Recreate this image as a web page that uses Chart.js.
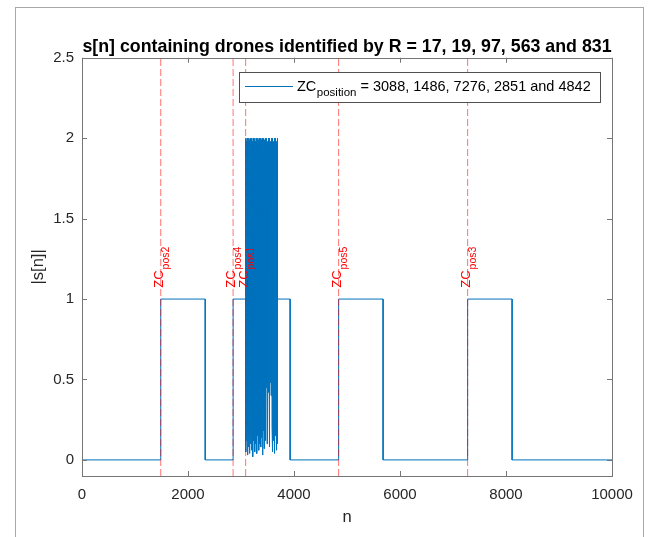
<!DOCTYPE html>
<html><head><meta charset="utf-8">
<script src="https://cdn.jsdelivr.net/npm/chart.js@4/dist/chart.umd.min.js"></script>
<style>html,body{margin:0;padding:0;background:#fff;} canvas{display:block;}</style>
</head><body>
<canvas id="c" width="651" height="537"></canvas>
<script>
// ---- data ----
const rootIndices = [17, 19, 97, 563, 831];
const zcPositions = [3088, 1486, 7276, 2851, 4842];
const zcLabels = ['pos1', 'pos2', 'pos3', 'pos4', 'pos5'];
const xTicks = [0, 2000, 4000, 6000, 8000, 10000];
const yTicks = [0, 0.5, 1, 1.5, 2, 2.5];
const pulseStartN   = [0, 1486, 1486, 2325, 2325, 2851, 2851, 3088];
const pulseStartMag = [0, 0,    1,    1,    0,    0,    1,    1];
const overlapRange = [3088, 3690];
const overlapPeaks = [2.0,1.98,1.95,2.0,1.99,1.9,2.0,1.97,
  1.99,2.0,1.93,1.99,2.0,1.98,1.88,2.0,
  1.99,1.96,2.0,1.98,1.92,2.0,1.99,1.97,
  2.0,1.95,1.99,2.0,1.9,1.98,2.0,1.99,
  1.96,2.0,1.98,1.93,2.0,1.99,1.97,2.0,
  1.91,1.99,2.0,1.98,1.95,2.0,1.99,1.89,
  2.0,1.98,1.97,2.0,1.94,1.99,2.0,1.98,
  1.92,2.0,1.99,1.96,2.0,1.98,1.95,2.0];
const overlapTroughs = [0.05,0.3,0.12,0.03,0.2,0.08,0.35,0.04,0.15,0.1,
  0.25,0.06,0.3,0.18,0.02,0.22,0.12,0.35,0.05,0.28,
  0.1,0.3,0.04,0.2,0.15,0.32,0.06,0.24,0.1,0.38,
  0.08,0.26,0.14,0.03,0.3,0.18,0.07,0.28,0.12,0.22,
  0.45,0.55,0.1,0.6,0.42,0.5,0.65,0.08,0.48,0.58,0.4,0.52,
  0.2,0.05,0.3,0.12,0.25,0.04,0.35,0.15,0.22,0.06,0.3,0.1];
const pulseEndN   = [3690, 3927, 3927, 4842, 4842, 5681, 5681, 7276, 7276, 8115, 8115, 10000];
const pulseEndMag = [1,    1,    0,    0,    1,    1,    0,    0,    1,    1,    0,    0];

// ---- build ----
const FONT = '"Liberation Sans", Arial, Helvetica, sans-serif';
const LINE_BLUE = '#0072BD';
const titleText = 's[n] containing drones identified by R = ' +
  rootIndices.slice(0, -1).join(', ') + ' and ' + rootIndices[rootIndices.length - 1];
const legendRest = ' = ' + zcPositions.slice(0, -1).join(', ') + ' and ' + zcPositions[zcPositions.length - 1];

const signal = [];
pulseStartN.forEach((n, i) => signal.push({x: n, y: pulseStartMag[i]}));
const nPairs = Math.min(overlapPeaks.length, overlapTroughs.length);
const nPts = nPairs * 2;
for (let k = 0; k < nPairs; k++) {
  const a = overlapRange[0] + (overlapRange[1] - overlapRange[0]) * (2 * k) / (nPts - 1);
  const b = overlapRange[0] + (overlapRange[1] - overlapRange[0]) * (2 * k + 1) / (nPts - 1);
  signal.push({x: a, y: overlapPeaks[k]});
  signal.push({x: b, y: overlapTroughs[k]});
}
pulseEndN.forEach((n, i) => signal.push({x: n, y: pulseEndMag[i]}));

const Y_MIN = -0.1, Y_MAX = 2.5;
const datasets = zcPositions.map(p => ({
  data: [{x: p, y: Y_MIN}, {x: p, y: Y_MAX}],
  borderColor: 'rgba(255,0,0,0.55)', borderWidth: 1, borderDash: [7, 3],
  pointRadius: 0, fill: false
}));
datasets.push({
  data: signal, borderColor: LINE_BLUE, borderWidth: 1,
  pointRadius: 0, fill: false, tension: 0
});

const LABEL_Y = 1.07;
const AXIS_COLOR = '#767676';

const deco = {
  id: 'deco',
  beforeDraw(chart) {
    const ctx = chart.ctx;
    ctx.save();
    ctx.fillStyle = '#fff';
    ctx.fillRect(0, 0, chart.width, chart.height);
    ctx.strokeStyle = '#a8a8a8';
    ctx.lineWidth = 1;
    ctx.strokeRect(15.5, 7.5, 628, 620);
    ctx.restore();
  },
  afterDatasetsDraw(chart) {
    const ctx = chart.ctx;
    const {left, right, top, bottom} = chart.chartArea;
    const xs = chart.scales.x, ys = chart.scales.y;
    ctx.save();
    // ZC labels
    ctx.fillStyle = '#ff0000';
    zcPositions.forEach((p, i) => {
      const px = xs.getPixelForValue(p);
      const py = ys.getPixelForValue(LABEL_Y);
      ctx.save();
      ctx.translate(px + 2, py);
      ctx.rotate(-Math.PI / 2);
      ctx.textAlign = 'left';
      ctx.textBaseline = 'alphabetic';
      ctx.font = '13px ' + FONT;
      ctx.fillText('ZC', 0, 0);
      const w = ctx.measureText('ZC').width;
      ctx.font = '10.5px ' + FONT;
      ctx.fillText(zcLabels[i], w + 1, 6);
      ctx.restore();
    });
    // axes box
    ctx.strokeStyle = AXIS_COLOR;
    ctx.lineWidth = 1;
    ctx.strokeRect(Math.round(left) + 0.5, Math.round(top) + 0.5,
      Math.round(right) - Math.round(left), Math.round(bottom) - Math.round(top));
    ctx.beginPath();
    xTicks.forEach(v => {
      const px = Math.round(xs.getPixelForValue(v)) + 0.5;
      ctx.moveTo(px, bottom); ctx.lineTo(px, bottom - 5);
      ctx.moveTo(px, top); ctx.lineTo(px, top + 5);
    });
    yTicks.forEach(v => {
      const py = Math.round(ys.getPixelForValue(v)) + 0.5;
      ctx.moveTo(left, py); ctx.lineTo(left + 5, py);
      ctx.moveTo(right, py); ctx.lineTo(right - 5, py);
    });
    ctx.stroke();
    // legend
    const lx = 239.5, ly = 72.5, lw = 361, lh = 30;
    ctx.fillStyle = '#fff';
    ctx.fillRect(lx, ly, lw, lh);
    ctx.strokeStyle = '#505050';
    ctx.strokeRect(lx, ly, lw, lh);
    ctx.strokeStyle = LINE_BLUE;
    ctx.beginPath(); ctx.moveTo(245, 86.5); ctx.lineTo(293, 86.5); ctx.stroke();
    ctx.fillStyle = '#000';
    ctx.textAlign = 'left'; ctx.textBaseline = 'alphabetic';
    ctx.font = '14.5px ' + FONT;
    let tx = 297;
    ctx.fillText('ZC', tx, 91);
    tx += ctx.measureText('ZC').width;
    ctx.font = '11.5px ' + FONT;
    ctx.fillText('position', tx + 0.5, 95.5);
    tx += ctx.measureText('position').width + 0.5;
    ctx.font = '14.5px ' + FONT;
    ctx.fillText(legendRest, tx, 91);
    ctx.restore();
  }
};

new Chart(document.getElementById('c'), {
  type: 'line',
  data: {datasets},
  plugins: [deco],
  options: {
    responsive: false, animation: false, devicePixelRatio: 1,
    layout: {padding: {left: 0, right: 39, top: 0, bottom: 0}},
    plugins: {
      legend: {display: false}, tooltip: {enabled: false},
      title: {display: true, text: titleText, fullSize: false, color: '#000',
        font: {family: FONT, size: 17.8, weight: 'bold', lineHeight: 1.2},
        padding: {top: 36, bottom: 0.4}}
    },
    scales: {
      x: {
        type: 'linear', min: 0, max: 10000,
        grid: {display: false, drawTicks: false}, border: {display: false},
        afterBuildTicks: s => { s.ticks = xTicks.map(v => ({value: v})); },
        afterFit: s => { s.height = 61; },
        ticks: {padding: 10, color: '#262626', font: {family: FONT, size: 15}, maxRotation: 0, autoSkip: false,
          callback: v => String(v)},
        title: {display: true, text: 'n', color: '#262626', font: {family: FONT, size: 16.5}, padding: {top: 0, bottom: 10}}
      },
      y: {
        type: 'linear', min: Y_MIN, max: Y_MAX,
        grid: {display: false, drawTicks: false}, border: {display: false},
        afterBuildTicks: s => { s.ticks = yTicks.map(v => ({value: v})); },
        afterFit: s => { s.width = 82; },
        ticks: {padding: 8, color: '#262626', font: {family: FONT, size: 15}, autoSkip: false,
          callback: v => String(v)},
        title: {display: true, text: '|s[n]|', color: '#262626', font: {family: FONT, size: 16.5}, padding: {top: 29, bottom: 0}}
      }
    }
  }
});
</script>
</body></html>
